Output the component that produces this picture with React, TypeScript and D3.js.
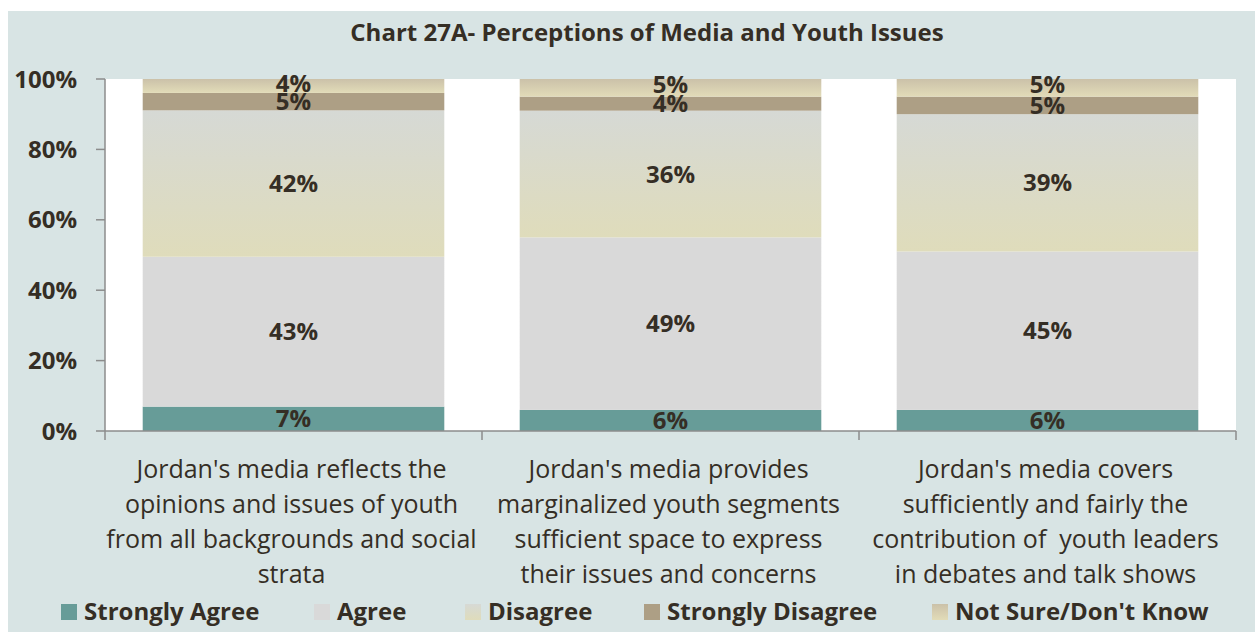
import React from "react";
import * as d3 from "d3";

const title = "Chart 27A- Perceptions of Media and Youth Issues";
const categories = ["Reflects opinions", "Marginalized space", "Youth leaders"];
const categoryLines = [
  ["Jordan's media reflects the", "opinions and issues of youth", "from all backgrounds and social", "strata"],
  ["Jordan's media provides", "marginalized youth segments", "sufficient space to express", "their issues and concerns"],
  ["Jordan's media covers", "sufficiently and fairly the", "contribution of  youth leaders", "in debates and talk shows"],
];
const seriesNames = ["Strongly Agree", "Agree", "Disagree", "Strongly Disagree", "Not Sure/Don't Know"];
const stronglyAgree = [7, 6, 6];
const agree = [43, 49, 45];
const disagree = [42, 36, 39];
const stronglyDisagree = [5, 4, 5];
const notSure = [4, 5, 5];
const yTicks = [0, 20, 40, 60, 80, 100];

const W = 1255;
const H = 632;
const FONT = "'Open Sans', Lato, sans-serif";
const TXT = "#352e25";
const BG = "#d8e4e4";
const AXIS = "#8c8c8c";
const BOLD_SIZE = 24;
const REG_SIZE = 25;

const fills: { id: string; stops: string[] }[] = [
  { id: "g0", stops: ["#679c98", "#679c98"] },
  { id: "g1", stops: ["#d9d9d9", "#d9d9d9"] },
  { id: "g2", stops: ["#d6d9d5", "#dfdcbb"] },
  { id: "g3", stops: ["#ad9f85", "#ad9f85"] },
  { id: "g4", stops: ["#cbc1a9", "#e2dcb8"] },
];
const legendX = [61, 314, 465, 644, 932];

export default function App() {
  const plot = { left: 105, right: 1236, top: 79, bottom: 431 };
  const rows = categories.map((c, i) => ({
    cat: c,
    [seriesNames[0]]: stronglyAgree[i],
    [seriesNames[1]]: agree[i],
    [seriesNames[2]]: disagree[i],
    [seriesNames[3]]: stronglyDisagree[i],
    [seriesNames[4]]: notSure[i],
  }));
  const stack = d3.stack<any>().keys(seriesNames).offset(d3.stackOffsetExpand);
  const layers = stack(rows);
  const x = d3.scaleBand<string>().domain(categories).range([plot.left, plot.right]).paddingInner(0.2).paddingOuter(0.1);
  const xOuter = d3.scaleBand<string>().domain(categories).range([plot.left, plot.right]).padding(0);
  const y = d3.scaleLinear().domain([0, 1]).range([plot.bottom, plot.top]);
  const boundaries = [...categories.map((c) => xOuter(c)!), plot.right];
  const seriesValues = [stronglyAgree, agree, disagree, stronglyDisagree, notSure];

  return (
    <svg width={W} height={H} style={{ position: "absolute", left: 0, top: 0 }}>
      <defs>
        {fills.map((f) => (
          <linearGradient key={f.id} id={f.id} x1="0" y1="0" x2="0" y2="1">
            <stop offset="0" stopColor={f.stops[0]} />
            <stop offset="1" stopColor={f.stops[1]} />
          </linearGradient>
        ))}
      </defs>
      <rect x={8} y={11} width={W - 8} height={H - 11} fill={BG} />
      <rect x={plot.left} y={plot.top} width={plot.right - plot.left} height={plot.bottom - plot.top} fill="#ffffff" />
      <text x={647} y={41} textAnchor="middle" fontFamily={FONT} fontWeight={700} fontSize={BOLD_SIZE} fill={TXT}>
        {title}
      </text>
      {layers.map((layer, li) =>
        layer.map((d, ci) => (
          <rect
            key={`${li}-${ci}`}
            x={x(categories[ci])}
            y={y(d[1])}
            width={x.bandwidth()}
            height={y(d[0]) - y(d[1])}
            fill={`url(#${fills[li].id})`}
          />
        ))
      )}
      {layers.map((layer, li) =>
        layer.map((d, ci) => {
          const raw = seriesValues[li][ci];
          const isTop = li === layers.length - 1;
          return (
            <text
              key={`l${li}-${ci}`}
              x={x(categories[ci])! + x.bandwidth() / 2}
              y={(y(d[0]) + y(d[1])) / 2 - (isTop ? 3 : 0)}
              dy="0.36em"
              textAnchor="middle"
              fontFamily={FONT}
              fontWeight={700}
              fontSize={BOLD_SIZE}
              fill={TXT}
            >
              {raw}%
            </text>
          );
        })
      )}
      {/* y axis */}
      <line x1={plot.left} x2={plot.left} y1={plot.top} y2={plot.bottom} stroke={AXIS} strokeWidth={1.5} />
      {yTicks.map((t) => (
        <g key={t}>
          <line x1={plot.left - 9} x2={plot.left} y1={y(t / 100)} y2={y(t / 100)} stroke={AXIS} strokeWidth={1.5} />
          <text x={77} y={y(t / 100)} dy="0.36em" textAnchor="end" fontFamily={FONT} fontWeight={700} fontSize={BOLD_SIZE} fill={TXT}>
            {t}%
          </text>
        </g>
      ))}
      {/* x axis */}
      <line x1={plot.left} x2={plot.right} y1={plot.bottom} y2={plot.bottom} stroke={AXIS} strokeWidth={1.5} />
      {boundaries.map((b, i) => (
        <line key={i} x1={b} x2={b} y1={plot.bottom} y2={plot.bottom + 9} stroke={AXIS} strokeWidth={1.5} />
      ))}
      {categoryLines.map((lines, ci) => (
        <text key={ci} textAnchor="middle" fontFamily={FONT} fontSize={REG_SIZE} fill={TXT}>
          {lines.map((ln, k) => (
            <tspan key={k} x={x(categories[ci])! + x.bandwidth() / 2 - 2} y={478 + k * 35} style={{ whiteSpace: "pre" }}>
              {ln}
            </tspan>
          ))}
        </text>
      ))}
      {/* legend */}
      {seriesNames.map((s, i) => (
        <g key={s}>
          <rect x={legendX[i]} y={604} width={16} height={16} fill={`url(#${fills[i].id})`} />
          <text x={legendX[i] + 23} y={620} fontFamily={FONT} fontWeight={700} fontSize={BOLD_SIZE} fill={TXT}>
            {s}
          </text>
        </g>
      ))}
    </svg>
  );
}
